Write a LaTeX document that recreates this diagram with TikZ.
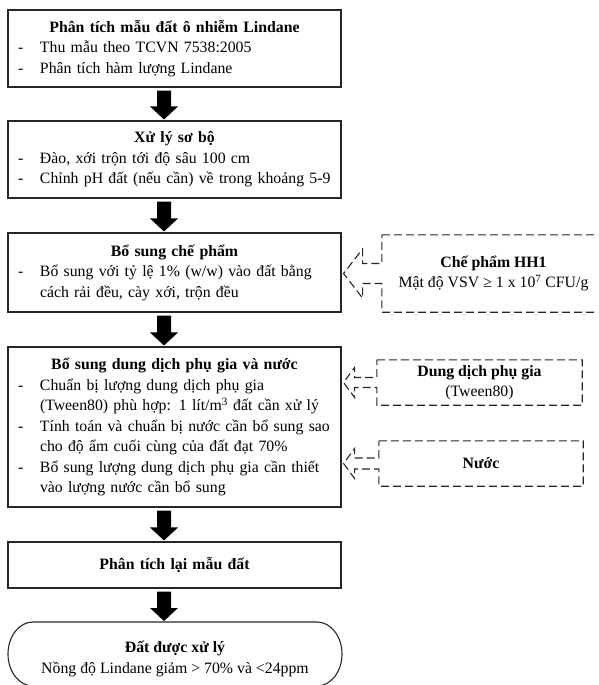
\documentclass[tikz,border=0pt]{standalone}
\usepackage{fontspec}
\setmainfont{Liberation Serif}
\usetikzlibrary{calc}
\setlength\parindent{0pt}
\newcommand\itemline[1]{\par\noindent\makebox[22pt][l]{-}\mbox{#1}}
\newcommand\contline[1]{\par\noindent\hspace*{22pt}\mbox{#1}}
\newcommand\blockarr[2]{%
  \fill[black] let \p1=(#1.south), \p2=(#2.north) in
    (157pt,\y1-3pt) -- (171pt,\y1-3pt) -- (171pt,\y2+14pt) -- (178pt,\y2+14pt)
    -- (164pt,\y2+1pt) -- (150pt,\y2+14pt) -- (157pt,\y2+14pt) -- cycle;}
\newcommand\calloutpath[5]{%
  \draw[calloutline] (#1.north west) -- (#1.north east) -- (#1.south east) -- (#1.south west)
    -- ($(#1.west)+(0,#5)$) -- ($(#1.west -| #2.east)+(2+#3,#5)$)
    -- ($(#1.west -| #2.east)+(2+#3,#4)$) -- ($(#1.west -| #2.east)+(2,0)$)
    -- ($(#1.west -| #2.east)+(2+#3,-#4)$) -- ($(#1.west -| #2.east)+(2+#3,-#5)$)
    -- ($(#1.west)+(0,-#5)$) -- cycle;}
\tikzset{
  mainbox/.style={draw=black!85, line width=1.1pt, rectangle, inner xsep=10pt, inner ysep=0pt,
    text width=313pt, font=\fontsize{15.8}{20.5}\selectfont},
  calltext/.style={rectangle, inner sep=0pt, align=center, font=\fontsize{15.8}{20.5}\selectfont},
  calloutline/.style={draw=black!85, line width=1.1pt, dash pattern=on 8pt off 4pt},
}
\begin{document}
\begin{tikzpicture}[x=1pt,y=-1pt]
\path[use as bounding box] (0,0) rectangle (598,685);
\clip (0,0) rectangle (598,685);

\node[mainbox, minimum height=77pt] (b1) at (174.5,48.5)
  {{\centering\bfseries Phân tích mẫu đất ô nhiễm Lindane\par}%
   \itemline{Thu mẫu theo TCVN 7538:2005}%
   \itemline{Phân tích hàm lượng Lindane}};

\node[mainbox, minimum height=77pt] (b2) at (174.5,159.5)
  {{\centering\bfseries Xử lý sơ bộ\par}%
   \itemline{Đào, xới trộn tới độ sâu 100 cm}%
   \itemline{Chỉnh pH đất (nếu cần) về trong khoảng 5-9}};

\node[mainbox, minimum height=79pt] (b3) at (174.5,272.5)
  {{\centering\bfseries Bổ sung chế phẩm\par}%
   \itemline{Bổ sung với tỷ lệ 1\% (w/w) vào đất bằng}%
   \contline{cách rải đều, cày xới, trộn đều}};

\node[mainbox, minimum height=160pt] (b4) at (174.5,427)
  {{\centering\bfseries Bổ sung dung dịch phụ gia và nước\par}%
   \itemline{Chuẩn bị lượng dung dịch phụ gia}%
   \contline{(Tween80) phù hợp: 1 lít/m\textsuperscript{3} đất cần xử lý}%
   \itemline{Tính toán và chuẩn bị nước cần bổ sung sao}%
   \contline{cho độ ẩm cuối cùng của đất đạt 70\%}%
   \itemline{Bổ sung lượng dung dịch phụ gia cần thiết}%
   \contline{vào lượng nước cần bổ sung}};

\node[mainbox, minimum height=46pt] (b5) at (174.5,565)
  {{\centering\bfseries Phân tích lại mẫu đất\par}};

\node[calltext] (fin) at (175,659)
  {\textbf{Đất được xử lý}\\Nồng độ Lindane giảm > 70\% và <24ppm};
\draw[draw=black!85, line width=1.1pt] (33,622) -- (317,622)
  arc[start angle=-90, end angle=90, x radius=25, y radius=32]
  -- (33,686) arc[start angle=90, end angle=270, x radius=25, y radius=32] -- cycle;

\blockarr{b1}{b2}
\blockarr{b2}{b3}
\blockarr{b3}{b4}
\blockarr{b4}{b5}
\coordinate (finTop) at (175,622);
\fill[black] let \p1=(b5.south), \p2=(finTop) in
    (157pt,\y1-3pt) -- (171pt,\y1-3pt) -- (171pt,\y2+14pt) -- (178pt,\y2+14pt)
    -- (164pt,\y2+1pt) -- (150pt,\y2+14pt) -- (157pt,\y2+14pt) -- cycle;

\node[calltext, minimum width=223pt, minimum height=77pt] (c1) at (493.5,273.5)
  {\textbf{Chế phẩm HH1}\\Mật độ VSV ≥ 1 x 10\textsuperscript{7} CFU/g};
\node[calltext, minimum width=205pt, minimum height=45pt] (c2) at (479.5,382.5)
  {\textbf{Dung dịch phụ gia}\\(Tween80)};
\node[calltext, minimum width=204pt, minimum height=45pt] (c3) at (481,463.5)
  {\textbf{Nước}};

\calloutpath{c1}{b3}{19}{24.5}{10}
\calloutpath{c2}{b4}{11}{15}{5}
\calloutpath{c3}{b4}{11}{15}{5.5}
\end{tikzpicture}
\end{document}
